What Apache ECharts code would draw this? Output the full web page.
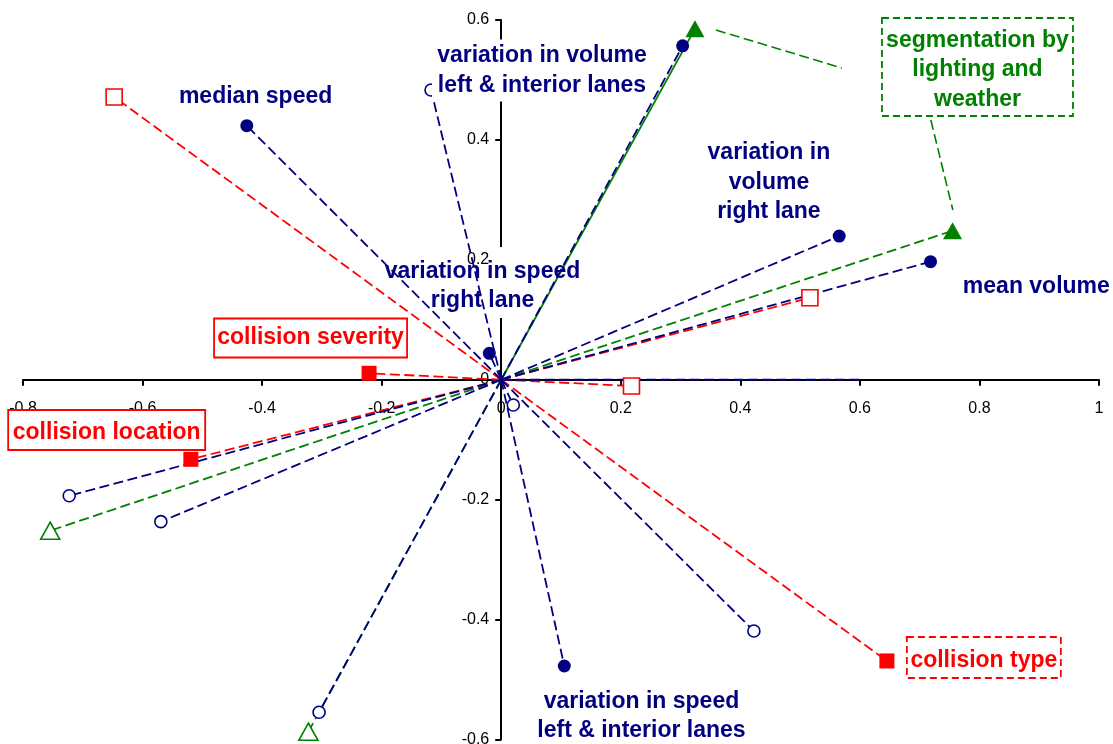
<!DOCTYPE html>
<html>
<head>
<meta charset="utf-8">
<script src="https://cdn.jsdelivr.net/npm/echarts@6/dist/echarts.min.js"></script>
<style>
html,body{margin:0;padding:0;background:#fff;}
#c{width:1113px;height:744px;}
</style>
</head>
<body>
<div id="c"></div>
<script>
// ---- data (vector end points; every vector starts at the origin) ----
const navyFilledPts = [[-0.4256,0.4237],[0.3035,0.557],[0.5654,0.2397],[0.7182,0.1969],[-0.0199,0.0441],[0.1055,-0.4774]];
const navyOpenPts   = [[-0.1174,0.4832],[0.0202,-0.0421],[0.4227,-0.4191],[-0.7227,-0.1935],[-0.5694,-0.2367],[-0.3047,-0.5546]];
const navyPlainPts  = [[0.6,0]];
const redFilledPts  = [[-0.2211,0.0108],[-0.5192,-0.1327],[0.6452,-0.469]];
const redOpenPts    = [[-0.6475,0.4716],[0.2179,-0.0104],[0.5164,0.1368]];
const greenFilledPts= [[0.3241,0.5853],[0.755,0.2486]];
const greenOpenPts  = [[-0.7545,-0.2517],[-0.3226,-0.587]];
const greenSolidIdx = 0; // first filled green vector is a solid line
const calloutLines  = [[[0.3592,0.5833],[0.5699,0.5199]],[[0.7187,0.4332],[0.7555,0.2831]]];

const xTicks = {min:-0.8, max:1, interval:0.2};
const yTicks = {min:-0.6, max:0.6, interval:0.2};

// annotation texts with anchor (box centre) in data coordinates
const navyLabels = [
  {text:'median speed', at:[-0.4109,0.4724]},
  {text:'variation in volume\nleft & interior lanes', at:[0.0682,0.5158], bg:[220,62]},
  {text:'variation in\nvolume\nright lane', at:[0.4478,0.3293]},
  {text:'mean volume', at:[0.8952,0.1555]},
  {text:'variation in speed\nright lane', at:[-0.0313,0.1559]},
  {text:'variation in speed\nleft & interior lanes', at:[0.2346,-0.5611]}
];
const boxLabels = [
  {text:'collision severity', at:[-0.3189,0.0696], size:[193,39], color:'#FF0000', dashed:false, dy:0},
  {text:'collision location', at:[-0.66,-0.0838], size:[197,40], color:'#FF0000', dashed:false, dy:3},
  {text:'collision type', at:[0.8074,-0.4632], size:[154,41], color:'#FF0000', dashed:true, dy:3},
  {text:'segmentation by\nlighting and\nweather', at:[0.7967,0.5216], size:[191,98], color:'#008000', dashed:true, dy:3}
];

const NAVY='#000080', RED='#FF0000', GREEN='#008000';
const DASH=[10,4.5];

function vecSeries(pt, color, symbol, size, open, solid){
  return {
    type:'line',
    data:[{value:[0,0], symbol:'none'}, {value:pt}],
    symbol: symbol,
    symbolSize: size,
    showAllSymbol:true,
    animation:false,
    silent:true,
    lineStyle:{color:color, width:1.8, type: solid ? 'solid' : DASH},
    itemStyle: open ? {color:'#fff', borderColor:color, borderWidth:1.6}
                    : {color:color, borderWidth:0}
  };
}

const series = [];
redFilledPts.forEach(p=>series.push(vecSeries(p, RED, 'rect', 15, false)));
redOpenPts.forEach(p=>series.push(vecSeries(p, RED, 'rect', 16, true)));
greenFilledPts.forEach((p,i)=>series.push(vecSeries(p, GREEN, 'triangle', [19,17], false, i===greenSolidIdx)));
greenOpenPts.forEach(p=>series.push(vecSeries(p, GREEN, 'triangle', [19,17], true)));
navyPlainPts.forEach(p=>series.push(vecSeries(p, NAVY, 'none', 0, false)));
navyOpenPts.forEach(p=>series.push(vecSeries(p, NAVY, 'circle', 12, true)));
navyFilledPts.forEach(p=>series.push(vecSeries(p, NAVY, 'circle', 13, false)));
calloutLines.forEach(seg=>series.push({
  type:'line', data:seg, symbol:'none', animation:false, silent:true,
  lineStyle:{color:GREEN, width:1.6, type:DASH}
}));

const FONT_FAMILY = '"Liberation Sans", Arial, sans-serif';

const GRID = {left:23, right:14, top:20, bottom:4.5};
const W = 1113, H = 744;
const plotW = W - GRID.left - GRID.right, plotH = H - GRID.top - GRID.bottom;
// offsets moving the axes from the grid edges onto the zero lines
const xZeroFrac = (0 - xTicks.min) / (xTicks.max - xTicks.min);
const yZeroFrac = (0 - yTicks.min) / (yTicks.max - yTicks.min);
const xAxisOffset = -(yZeroFrac * plotH);
const yAxisOffset = -(xZeroFrac * plotW);

const axisCommon = {
  type:'value',
  splitLine:{show:false},
  axisLine:{show:true, onZero:false, lineStyle:{color:'#000', width:2}},
  axisTick:{show:true, inside:false, length:6, lineStyle:{color:'#000', width:2}},
  axisLabel:{color:'#000', fontSize:16, fontFamily:FONT_FAMILY, hideOverlap:false}
};

const chart = echarts.init(document.getElementById('c'), null, {renderer:'canvas'});
chart.setOption({
  animation:false,
  backgroundColor:'#fff',
  grid:Object.assign({containLabel:false, outerBoundsMode:'none'}, GRID),
  xAxis: Object.assign({}, axisCommon, xTicks, {position:'bottom', offset:xAxisOffset,
    axisLabel:Object.assign({}, axisCommon.axisLabel, {margin:21})}),
  yAxis: Object.assign({}, axisCommon, yTicks, {position:'left', offset:yAxisOffset,
    axisLabel:Object.assign({}, axisCommon.axisLabel, {margin:12})}),
  series: series
});

const px = p => chart.convertToPixel({gridIndex:0}, p);
const graphic = [];
const boldFont = 'bold 23px ' + FONT_FAMILY;

// gap in the vertical axis line behind "variation in speed right lane"
(function(){
  const a = px([0,0.2213]), b = px([0,0.1029]);
  graphic.push({type:'rect', z:1, silent:true,
    shape:{x:a[0]-8, y:a[1], width:14, height:b[1]-a[1]},
    style:{fill:'#fff'}});
})();

navyLabels.forEach(l=>{
  const c = px(l.at);
  if (l.bg) {
    graphic.push({type:'rect', z:50, silent:true,
      shape:{x:c[0]-l.bg[0]/2, y:c[1]-l.bg[1]/2, width:l.bg[0], height:l.bg[1]},
      style:{fill:'#fff'}});
  }
  graphic.push({type:'text', z:51, silent:true, x:c[0], y:c[1],
    style:{text:l.text, fill:NAVY, font:boldFont, align:'center', verticalAlign:'middle', lineHeight:29.5}});
});

boxLabels.forEach(l=>{
  const c = px(l.at);
  graphic.push({type:'rect', z:50, silent:true,
    shape:{x:c[0]-l.size[0]/2, y:c[1]-l.size[1]/2, width:l.size[0], height:l.size[1]},
    style:{fill:'#fff', stroke:l.color, lineWidth:1.8, lineDash: l.dashed ? [7,4] : null}});
  graphic.push({type:'text', z:51, silent:true, x:c[0], y:c[1]+l.dy,
    style:{text:l.text, fill:l.color, font:boldFont, align:'center', verticalAlign:'middle', lineHeight:29.5}});
});

chart.setOption({graphic: graphic});
</script>
</body>
</html>
